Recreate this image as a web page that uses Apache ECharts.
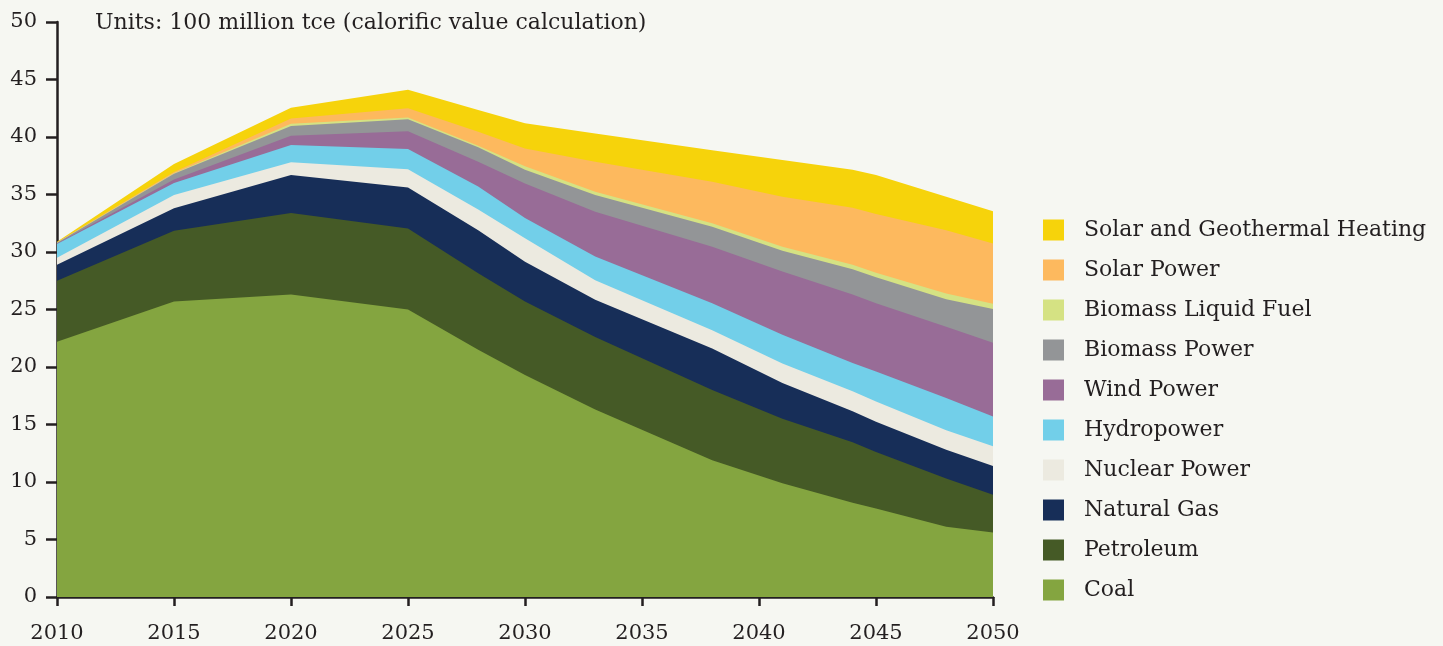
<!DOCTYPE html>
<html>
<head>
<meta charset="utf-8">
<title>Energy mix 2010-2050</title>
<script src="https://cdn.jsdelivr.net/npm/echarts/dist/echarts.min.js"></script>
<style>
    html, body { margin: 0; padding: 0; background: #f6f7f2; }
    #chart { width: 1443px; height: 646px; }
</style>
</head>
<body>
<div id="chart"></div>
<script>
// years where the bands bend
let years = [2010, 2015, 2020, 2025, 2028, 2030, 2033, 2038, 2041, 2044, 2045, 2048, 2050];

// band thickness for each source, 100 million tce
let coal         = [22.2, 25.7, 26.3, 25.0, 21.5, 19.3, 16.3, 11.9, 9.9, 8.2, 7.7, 6.1, 5.6];
let petroleum    = [5.3, 6.15, 7.1, 7.05, 6.65, 6.4, 6.3, 6.1, 5.6, 5.25, 4.9, 4.2, 3.3];
let naturalGas   = [1.4, 1.95, 3.3, 3.55, 3.75, 3.45, 3.25, 3.6, 3.1, 2.7, 2.65, 2.5, 2.5];
let nuclear      = [0.6, 1.15, 1.1, 1.6, 1.8, 2.05, 1.7, 1.6, 1.7, 1.75, 1.75, 1.7, 1.7];
let hydro        = [1.2, 1.05, 1.5, 1.75, 2.0, 1.75, 2.05, 2.35, 2.5, 2.45, 2.6, 2.8, 2.6];
let wind         = [0.05, 0.3, 0.8, 1.55, 2.15, 3.0, 3.9, 4.9, 5.5, 5.95, 5.95, 6.2, 6.4];
let biomassPower = [0.05, 0.5, 0.85, 1.05, 1.25, 1.2, 1.45, 1.75, 1.8, 2.2, 2.25, 2.4, 2.95];
let biomassFuel  = [0.02, 0.05, 0.2, 0.15, 0.15, 0.3, 0.3, 0.3, 0.35, 0.4, 0.4, 0.5, 0.45];
let solarPower   = [0.03, 0.1, 0.45, 0.8, 1.2, 1.55, 2.6, 3.6, 4.35, 4.95, 5.1, 5.5, 5.25];
let solarHeat    = [0.05, 0.7, 0.95, 1.6, 1.9, 2.2, 2.45, 2.75, 3.2, 3.3, 3.4, 2.9, 2.8];

let xTicks = [2010, 2015, 2020, 2025, 2030, 2035, 2040, 2045, 2050];
let yTicks = [0, 5, 10, 15, 20, 25, 30, 35, 40, 45, 50];

// bottom to top
let layers = [
    {name: 'Coal', data: coal, color: '#84a540'},
    {name: 'Petroleum', data: petroleum, color: '#455a26'},
    {name: 'Natural Gas', data: naturalGas, color: '#172e58'},
    {name: 'Nuclear Power', data: nuclear, color: '#eceae0'},
    {name: 'Hydropower', data: hydro, color: '#72cfe9'},
    {name: 'Wind Power', data: wind, color: '#986c97'},
    {name: 'Biomass Power', data: biomassPower, color: '#939597'},
    {name: 'Biomass Liquid Fuel', data: biomassFuel, color: '#d5e283'},
    {name: 'Solar Power', data: solarPower, color: '#fdb95e'},
    {name: 'Solar and Geothermal Heating', data: solarHeat, color: '#f6d30b'}
];

let font = '"DejaVu Serif", Georgia, serif';
let ink = '#231f20';

// running totals so each band sits on the ones below it
let running = years.map(function () { return 0; });
let series = layers.map(function (l) {
    running = running.map(function (s, i) { return s + l.data[i]; });
    let top = running.slice();
    return {
        name: l.name,
        type: 'line',
        symbol: 'none',
        lineStyle: {width: 0},
        itemStyle: {color: l.color},
        areaStyle: {color: l.color, opacity: 1, origin: 'start'},
        data: top.map(function (v, i) { return [years[i], +v.toFixed(2)]; })
    };
});
// draw the tallest band first, coal last
series.reverse();

let option = {
    backgroundColor: '#f6f7f2',
    animation: false,
    title: {
        text: 'Units: 100 million tce (calorific value calculation)',
        left: 90,
        top: 7,
        textStyle: {fontFamily: font, fontSize: 22, fontWeight: 'normal', color: ink}
    },
    legend: {
        orient: 'vertical',
        left: 1038,
        top: 214,
        icon: 'rect',
        itemWidth: 21,
        itemHeight: 21,
        itemGap: 18,
        data: layers.map(function (l) { return l.name; }).reverse(),
        textStyle: {fontFamily: font, fontSize: 22, color: ink, padding: [0, 0, 0, 15]}
    },
    grid: {left: 57, right: 450, top: 22, bottom: 49},
    xAxis: {
        type: 'value',
        min: xTicks[0],
        max: xTicks[xTicks.length - 1],
        interval: 5,
        splitLine: {show: false},
        axisLine: {lineStyle: {color: ink, width: 2.5}},
        axisTick: {show: true, length: 9, lineStyle: {color: ink, width: 2.5}},
        axisLabel: {fontFamily: font, fontSize: 21, color: ink, margin: 26,
            formatter: function (v) { return String(v); }}
    },
    yAxis: {
        type: 'value',
        min: yTicks[0],
        max: yTicks[yTicks.length - 1],
        interval: 5,
        splitLine: {show: false},
        axisLine: {show: true, lineStyle: {color: ink, width: 2.5}},
        axisTick: {show: true, length: 11, lineStyle: {color: ink, width: 2.5}},
        axisLabel: {fontFamily: font, fontSize: 21, color: ink, margin: 20}
    },
    series: series
};

let myChart = echarts.init(document.getElementById('chart'));
myChart.setOption(option);
</script>
</body>
</html>
